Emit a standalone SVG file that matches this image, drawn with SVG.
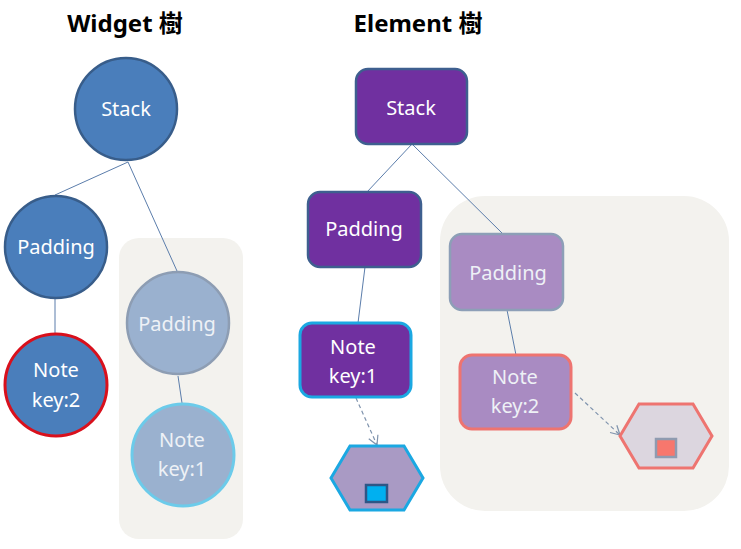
<svg xmlns="http://www.w3.org/2000/svg" width="741" height="549" viewBox="0 0 741 549">
<style>
text{font-family:"Noto Sans","Noto Sans CJK TC",sans-serif;text-anchor:middle}
.t{font-size:24px;font-weight:bold;fill:#000}
.l{font-size:20px;fill:#fff}
.lf{font-size:20px;fill:#eef1f6}
.bg{fill:#f3f2ee}
.wc{fill:#4a7ebb;stroke:#385d8a;stroke-width:2.5}
.wf{fill:#9ab1cf;stroke:#8d9db3;stroke-width:2.5}
.ec{fill:#7030a0;stroke:#3e5f8f;stroke-width:2.5}
.ef{fill:#a98bc2;stroke:#8d9fb7;stroke-width:2.5}
.ln{stroke:#5b7dab;stroke-width:1;fill:none}
.dash{stroke:#7f93ad;stroke-width:1.2;fill:none;stroke-dasharray:4 3}
</style>
<defs>
<marker id="ar" markerWidth="12" markerHeight="12" refX="10" refY="6" orient="auto" markerUnits="userSpaceOnUse">
<path d="M1,1 L10,6 L1,11" fill="none" stroke="#7f93ad" stroke-width="1.2"/>
</marker>
</defs>
<text class="t" x="125" y="32">Widget 樹</text>
<text class="t" x="418" y="32">Element 樹</text>
<rect class="bg" x="119" y="238" width="124" height="301" rx="20"/>
<rect class="bg" x="440" y="196" width="289" height="315" rx="45"/>
<g id="connectors">
<line class="ln" x1="128" y1="162" x2="55" y2="195"/>
<line class="ln" x1="128" y1="162" x2="177" y2="271"/>
<line class="ln" x1="55" y1="298" x2="55" y2="333"/>
<line class="ln" x1="178" y1="376" x2="182" y2="403"/>
<line class="ln" x1="412" y1="144" x2="367" y2="192"/>
<line class="ln" x1="412" y1="144" x2="503" y2="234"/>
<line class="ln" x1="365" y1="267" x2="358" y2="323"/>
<line class="ln" x1="507" y1="310" x2="516" y2="355"/>
<line class="dash" x1="356" y1="398" x2="377" y2="445" marker-end="url(#ar)"/>
<line class="dash" x1="575" y1="393" x2="620" y2="435" marker-end="url(#ar)"/>
</g>
<g id="w-stack"><circle class="wc" cx="126" cy="109" r="51"/><text class="l" x="126" y="116">Stack</text></g>
<g id="w-padding"><circle class="wc" cx="56" cy="247" r="51"/><text class="l" x="56" y="254">Padding</text></g>
<g id="w-note2"><circle cx="56" cy="385" r="51" fill="#4a7ebb" stroke="#d9101c" stroke-width="3"/><text class="l" x="56" y="377">Note</text><text class="l" x="56" y="407">key:2</text></g>
<g id="w-padding-f"><circle class="wf" cx="178" cy="323" r="51"/><text class="lf" x="177" y="331">Padding</text></g>
<g id="w-note1-f"><circle cx="183" cy="455" r="51" fill="#9ab1cf" stroke="#6ccbea" stroke-width="3"/><text class="lf" x="182" y="447">Note</text><text class="lf" x="182" y="476">key:1</text></g>
<g id="e-stack"><rect class="ec" x="356" y="69" width="111" height="75" rx="12"/><text class="l" x="411" y="115">Stack</text></g>
<g id="e-padding"><rect class="ec" x="308" y="192" width="113" height="75" rx="12"/><text class="l" x="364" y="236">Padding</text></g>
<g id="e-padding-f"><rect class="ef" x="450" y="234" width="113" height="76" rx="12"/><text class="lf" x="508" y="280">Padding</text></g>
<g id="e-note1"><rect x="300" y="323" width="111" height="74" rx="12" fill="#7030a0" stroke="#1ba8e2" stroke-width="3"/><text class="l" x="353" y="354">Note</text><text class="l" x="353" y="383">key:1</text></g>
<g id="e-note2"><rect x="460" y="355" width="111" height="74" rx="12" fill="#a98bc2" stroke="#ee7470" stroke-width="3"/><text class="lf" x="515" y="384">Note</text><text class="lf" x="515" y="413">key:2</text></g>
<g id="r-obj1"><polygon points="331,478 350,446 404,446 423,478 404,510 350,510" fill="#a99ac4" stroke="#1ba8e2" stroke-width="3"/><rect x="366" y="485" width="21" height="17" fill="#00b0f0" stroke="#2e5686" stroke-width="2.5"/></g>
<g id="r-obj2"><polygon points="620,436 639,404 693,404 712,436 693,468 639,468" fill="#dcd6df" stroke="#ee7470" stroke-width="3"/><rect x="656" y="439" width="20" height="18" fill="#f7776d" stroke="#8f9bb0" stroke-width="2.5"/></g>
</svg>
